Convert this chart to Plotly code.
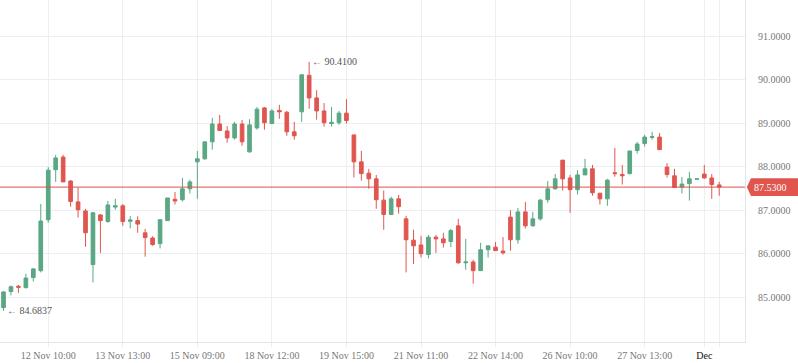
import plotly.graph_objects as go

opens = [84.76, 85.13, 85.25, 85.22, 85.45, 85.61, 86.78, 87.93, 88.22, 87.67,
         87.19, 86.98, 85.75, 86.89, 86.74, 87.07, 87.10, 86.745, 86.76, 86.48,
         86.36, 86.23, 86.76, 87.25, 87.24, 87.49, 88.11, 88.18, 88.57, 88.98,
         88.82, 88.66, 88.98, 88.34, 88.89, 89.35, 88.99, 89.29, 89.25, 88.80,
         89.26, 90.10, 89.58, 89.28, 88.99, 89.01, 89.23, 88.73, 88.11, 87.85,
         87.72, 87.23, 86.90, 87.26, 86.80, 86.31, 86.20, 85.98, 86.38, 86.34,
         86.28, 86.64, 85.79, 85.81, 85.61, 86.09, 86.15, 86.06, 86.84, 86.32,
         86.96, 86.64, 86.80, 87.24, 87.49, 88.15, 87.74, 87.47, 87.81, 87.95,
         87.39, 87.26, 87.86, 87.82, 87.84, 88.37, 88.53, 88.67, 88.68, 87.99,
         87.79, 87.53, 87.61, 87.71, 87.83, 87.74, 87.58]
highs = [85.14, 85.27, 85.28, 85.54, 85.67, 87.14, 87.99, 88.27, 88.27, 87.69,
         87.52, 87.03, 86.96, 86.91, 87.21, 87.26, 87.14, 86.87, 86.86, 86.57,
         86.40, 86.79, 87.28, 87.42, 87.74, 87.70, 88.36, 88.57, 89.12, 89.19,
         88.93, 89.03, 89.07, 89.09, 89.37, 89.37, 89.32, 89.42, 89.28, 89.03,
         90.13, 90.41, 89.76, 89.46, 89.37, 89.28, 89.55, 88.73, 88.36, 87.95,
         87.81, 87.45, 87.31, 87.35, 86.87, 86.55, 86.41, 86.43, 86.43, 86.48,
         86.57, 86.80, 86.34, 85.86, 86.25, 86.18, 86.27, 86.38, 87.00, 87.05,
         87.19, 86.96, 87.26, 87.67, 87.83, 88.15, 87.81, 87.92, 88.18, 88.04,
         87.39, 87.72, 88.43, 88.04, 88.36, 88.57, 88.73, 88.80, 88.77, 88.08,
         87.95, 87.76, 87.88, 87.72, 88.04, 87.83, 87.65]
lows = [84.6837, 85.04, 85.10, 85.20, 85.36, 85.57, 86.71, 87.65, 87.65, 87.08,
        86.83, 86.16, 85.34, 86.02, 86.71, 87.01, 86.64, 86.58, 86.48, 85.93,
        86.18, 86.12, 86.76, 87.13, 87.20, 87.38, 87.26, 88.16, 88.39, 88.83,
        88.55, 88.62, 88.48, 88.32, 88.85, 88.85, 88.99, 89.10, 88.71, 88.62,
        89.03, 89.33, 89.08, 88.92, 88.92, 88.96, 88.99, 87.75, 87.68, 87.49,
        87.03, 86.55, 86.90, 86.92, 85.57, 85.76, 85.91, 85.89, 86.02, 86.14,
        86.15, 85.77, 85.63, 85.31, 85.61, 85.91, 86.07, 85.98, 86.07, 86.23,
        86.58, 86.62, 86.76, 87.17, 87.47, 87.45, 86.94, 87.36, 87.81, 87.33,
        87.13, 87.10, 87.77, 87.59, 87.82, 88.30, 88.46, 88.62, 88.39, 87.75,
        87.52, 87.38, 87.22, 87.71, 87.72, 87.26, 87.33]
closes = [85.12, 85.24, 85.23, 85.44, 85.65, 86.75, 87.92, 88.20, 87.65, 87.20,
          87.01, 86.48, 86.94, 86.76, 87.12, 87.10, 86.74, 86.775, 86.68, 86.37,
          86.21, 86.78, 87.28, 87.21, 87.49, 87.65, 88.18, 88.57, 88.98, 88.83,
          88.66, 88.98, 88.57, 88.96, 89.32, 89.01, 89.28, 89.26, 88.80, 88.71,
          90.11, 89.58, 89.28, 89.01, 89.02, 89.23, 89.06, 88.11, 87.84, 87.72,
          87.24, 86.90, 87.26, 87.08, 86.32, 86.18, 86.00, 86.38, 86.34, 86.25,
          86.53, 85.79, 85.81, 85.61, 86.09, 86.18, 86.07, 86.02, 86.32, 86.96,
          86.64, 86.80, 87.23, 87.49, 87.72, 87.72, 87.47, 87.81, 87.95, 87.40,
          87.26, 87.69, 87.84, 87.79, 88.36, 88.52, 88.68, 88.69, 88.39, 87.82,
          87.52, 87.60, 87.72, 87.72, 87.74, 87.59, 87.53]

tick_positions = [6, 16, 26, 36, 46, 56, 66, 76, 86, 94, 96]
tick_labels = ["12 Nov 10:00", "13 Nov 13:00", "15 Nov 09:00", "18 Nov 12:00",
               "19 Nov 15:00", "21 Nov 11:00", "22 Nov 14:00", "26 Nov 10:00",
               "27 Nov 13:00", "<span style='color:#111111'>Dec</span>", ""]
price_ticks = [85, 86, 87, 88, 89, 90, 91]
last_price = 87.53
high_price = 90.41
low_price = 84.6837

x_idx = list(range(len(opens)))
GREEN = "#5aa783"
RED = "#e0564f"
LINE_RED = "#d9534f"
GRID = "#eceef1"

fig = go.Figure(go.Candlestick(
    x=x_idx, open=opens, high=highs, low=lows, close=closes,
    increasing=dict(line=dict(color=GREEN, width=1), fillcolor=GREEN),
    decreasing=dict(line=dict(color=RED, width=1), fillcolor=RED),
    whiskerwidth=0, showlegend=False, hoverinfo="skip",
))

hi_i = highs.index(max(highs))
lo_i = lows.index(min(lows))

fig.update_layout(
    width=798, height=363,
    margin=dict(l=0, r=53, t=0, b=21),
    paper_bgcolor="white", plot_bgcolor="white",
    font=dict(family="Liberation Serif", size=10, color="#777777"),
    boxgap=0.3,
    xaxis=dict(
        range=[-0.47, 99.46], rangeslider=dict(visible=False),
        tickmode="array", tickvals=tick_positions, ticktext=tick_labels,
        showgrid=True, gridcolor=GRID, gridwidth=1,
        ticks="outside", ticklen=4, tickcolor=GRID,
        showline=True, linecolor="#e3e5e8", linewidth=1,
        zeroline=False, tickfont=dict(color="#777777", size=10),
    ),
    yaxis=dict(
        side="right", range=[83.97, 91.83],
        tickmode="array", tickvals=price_ticks, tickformat=".4f",
        showgrid=True, gridcolor=GRID, gridwidth=1,
        showline=True, linecolor="#e3e5e8", linewidth=1, mirror=False,
        ticks="", ticklabelstandoff=10, zeroline=False,
        tickfont=dict(color="#777777", size=10),
    ),
    shapes=[
        dict(type="line", xref="paper", yref="y", x0=0, x1=1,
             y0=last_price, y1=last_price, line=dict(color=LINE_RED, width=1)),
        dict(type="path", xref="paper", yref="y",
             path=f"M 1.0025,{last_price} L 1.0080,{last_price + 0.205} "
                  f"L 1.0715,{last_price + 0.205} L 1.0715,{last_price - 0.205} "
                  f"L 1.0080,{last_price - 0.205} Z",
             fillcolor=RED, line=dict(width=0)),
    ],
    annotations=[
        dict(x=1.0095, y=last_price, xref="paper", yref="y", text="87.5300",
             showarrow=False, xanchor="left", yanchor="middle",
             font=dict(color="white", size=10, family="Liberation Serif")),
        dict(x=hi_i, y=high_price, xref="x", yref="y", text="← 90.4100",
             showarrow=False, xanchor="left", yanchor="middle", xshift=1,
             font=dict(color="#555555", size=10, family="Liberation Serif")),
        dict(x=lo_i, y=low_price, xref="x", yref="y", text="← 84.6837",
             showarrow=False, xanchor="left", yanchor="middle", xshift=1,
             font=dict(color="#555555", size=10, family="Liberation Serif")),
    ],
)

fig.write_html("out.html", config={"displayModeBar": False},
               post_script="document.body.style.margin='0';document.body.style.overflow='hidden';")
